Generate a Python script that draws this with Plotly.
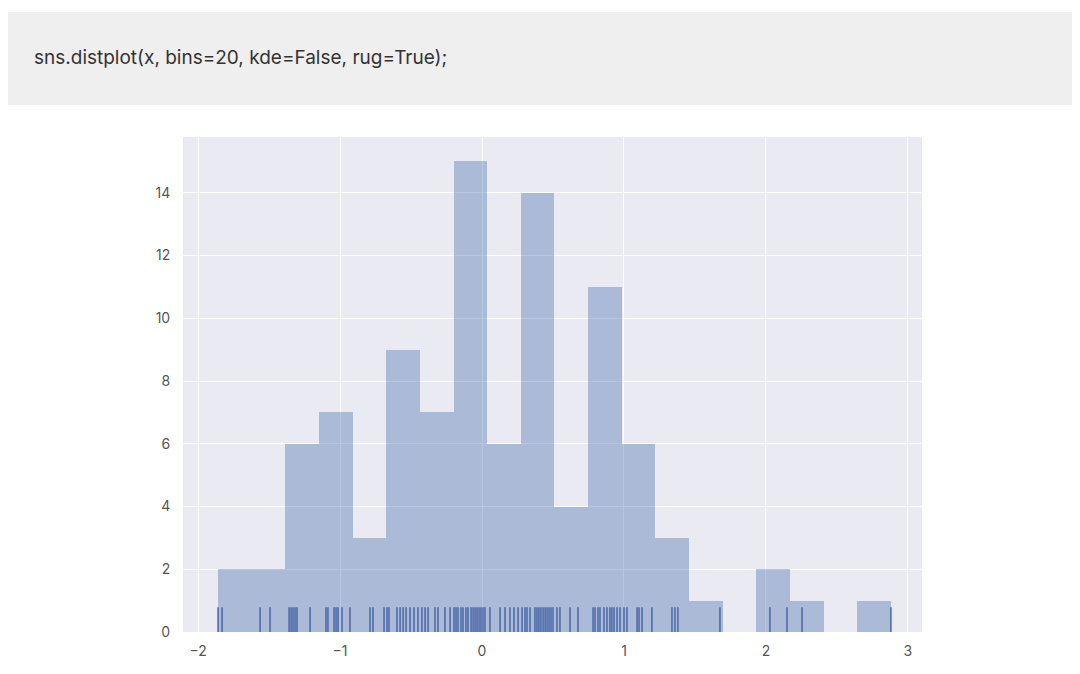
import numpy as np
import plotly.graph_objects as go

# Sample values read from the rug (100 observations)
x_values = [
    -1.859, -1.831,
    -1.563, -1.493,
    -1.359, -1.345, -1.331, -1.317, -1.303, -1.211,
    -1.099, -1.085, -1.042, -1.028, -1.014, -0.986, -0.930,
    -0.789, -0.768, -0.690,
    -0.669, -0.655, -0.599, -0.577, -0.556, -0.535, -0.507, -0.479, -0.451,
    -0.423, -0.401, -0.380, -0.331, -0.310, -0.261, -0.225,
    -0.197, -0.183, -0.169, -0.148, -0.134, -0.113, -0.099, -0.077, -0.063,
    -0.049, -0.035, -0.021, -0.007, 0.007, 0.021,
    0.056, 0.127, 0.162, 0.197, 0.225, 0.254,
    0.282, 0.303, 0.317, 0.338, 0.373, 0.387, 0.401, 0.415, 0.430, 0.444,
    0.458, 0.472, 0.486, 0.500,
    0.528, 0.549, 0.620, 0.676,
    0.782, 0.796, 0.817, 0.831, 0.859, 0.880, 0.901, 0.915, 0.930, 0.951, 0.972,
    1.000, 1.021, 1.092, 1.106, 1.127, 1.197,
    1.338, 1.359, 1.380,
    1.676,
    2.028, 2.148,
    2.254,
    2.880,
]
n_bins = 20
x_ticks = [-2, -1, 0, 1, 2, 3]
y_ticks = [0, 2, 4, 6, 8, 10, 12, 14]
code_text = "sns.distplot(x, bins=20, kde=False, rug=True);"

BLUE = "#4C72B0"

counts, edges = np.histogram(x_values, bins=n_bins)
centers = (edges[:-1] + edges[1:]) / 2
widths = np.diff(edges)

fig = go.Figure()
fig.add_trace(go.Bar(
    x=centers, y=counts, width=widths,
    marker=dict(color=BLUE, opacity=0.4, line=dict(width=0)),
    hoverinfo="skip",
))

shapes = []
# code cell band
shapes.append(dict(type="rect", xref="paper", yref="paper",
                   x0=-0.245, x1=1.203, y0=1.0646, y1=1.2525,
                   fillcolor="#efefef", line=dict(width=0), layer="below"))
# rug
for v in x_values:
    shapes.append(dict(type="line", xref="x", yref="y domain",
                       x0=v, x1=v, y0=0, y1=0.05,
                       line=dict(color="#4a68a8", width=1.5)))

fig.update_layout(
    width=1080, height=674,
    margin=dict(l=175, r=166, t=129, b=50),
    paper_bgcolor="white",
    plot_bgcolor="#EAEAF2",
    showlegend=False,
    bargap=0,
    shapes=shapes,
    font=dict(family="Inter, Liberation Sans, sans-serif", color="#555555"),
    annotations=[dict(
        text=code_text, xref="paper", yref="paper",
        x=-0.2043, y=1.1596, xanchor="left", yanchor="middle",
        showarrow=False, font=dict(size=19, color="#333333",
                                   family="Inter, Liberation Sans, sans-serif"),
    )],
)
fig.update_xaxes(
    range=[-2.106, 3.099], tickvals=x_ticks, ticktext=[str(t).replace("-", "\u2212") for t in x_ticks],
    showgrid=True, gridcolor="white", gridwidth=1.4, zeroline=False,
    showline=False, ticks="outside", ticklen=6, tickcolor="rgba(0,0,0,0)",
    tickfont=dict(size=14, color="#555555"),
)
fig.update_yaxes(
    range=[0, 15.78], tickvals=y_ticks,
    showgrid=True, gridcolor="white", gridwidth=1.4, zeroline=False,
    showline=False, ticks="outside", ticklen=9, tickcolor="rgba(0,0,0,0)",
    tickfont=dict(size=14, color="#555555"),
)

fig.write_html("out.html")
